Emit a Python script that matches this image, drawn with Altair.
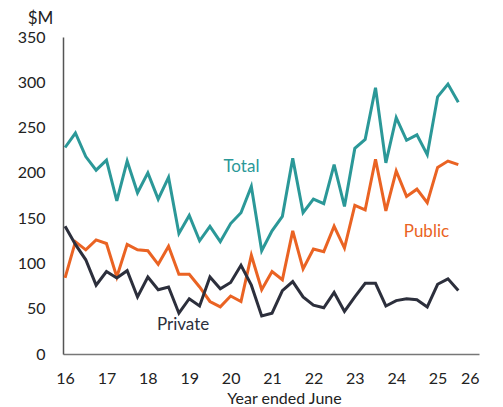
import altair as alt
import pandas as pd

# quarterly observations, year ended June (x in years, 16 = 2016)
total = [228, 244, 218, 203, 214, 169, 213, 178, 200, 171,
         195, 133, 153, 125, 141, 124, 144, 156, 185, 114,
         136, 152, 216, 156, 171, 166, 209, 163, 227, 237,
         294, 211, 261, 236, 242, 220, 284, 298, 278]
public = [84, 124, 115, 126, 122, 85, 121, 115, 114, 99,
          119, 88, 88, 74, 58, 52, 64, 58, 109, 71,
          91, 82, 136, 94, 116, 113, 141, 117, 164, 159,
          215, 158, 202, 174, 182, 167, 206, 213, 209]
private = [141, 121, 104, 76, 91, 84, 92, 63, 85, 71,
           74, 45, 61, 53, 85, 72, 79, 98, 76, 42,
           45, 70, 80, 63, 54, 51, 68, 47, 63, 78,
           78, 53, 59, 61, 60, 52, 77, 83, 70]
x_ticks = [16, 17, 18, 19, 20, 21, 22, 23, 24, 25, 26]

series_names = ["Total", "Public", "Private"]
series_colors = ["#2b9898", "#ea6323", "#2c2f3c"]
label_x = [20.26, 24.73, 18.85]
label_y = [207, 135, 32]

rows = []
for name, vals in zip(series_names, [total, public, private]):
    for i, v in enumerate(vals):
        rows.append({"year": 16 + 0.25 * i, "value": v, "series": name})
df = pd.DataFrame(rows)

labels = pd.DataFrame({"series": series_names, "x": label_x, "y": label_y})

color_scale = alt.Scale(domain=series_names, range=series_colors)

x_enc = alt.X(
    "year:Q",
    scale=alt.Scale(domain=[15.95, 26], nice=False, zero=False),
    axis=alt.Axis(
        values=x_ticks, format="d", title="Year ended June",
        titleX=221, titleY=44, titleBaseline="middle", titleAlign="center",
        titleFontSize=16, titleFontWeight="normal", titleColor="#222222",
        labelFontSize=16, labelColor="#222222", labelPadding=16,
        ticks=False, tickSize=0, grid=False,
        domainColor="#777777", domainWidth=1.5,
    ),
)
y_enc = alt.Y(
    "value:Q",
    scale=alt.Scale(domain=[0, 350], nice=False),
    axis=alt.Axis(
        values=[0, 50, 100, 150, 200, 250, 300, 350],
        title="$M", titleAngle=0, titleX=-23, titleY=-19,
        titleAlign="center", titleBaseline="middle",
        titleFontSize=17, titleFontWeight="normal", titleColor="#222222",
        labelFontSize=16, labelColor="#222222", labelPadding=18,
        ticks=False, tickSize=0, grid=False,
        domainColor="#555555", domainWidth=1.5,
    ),
)

lines = alt.Chart(df).mark_line(strokeWidth=3, strokeJoin="miter").encode(
    x=x_enc,
    y=y_enc,
    color=alt.Color("series:N", scale=color_scale, legend=None),
    detail="series:N",
)

text = alt.Chart(labels).mark_text(fontSize=17, font="Lato", align="center", baseline="middle").encode(
    x=alt.X("x:Q"),
    y=alt.Y("y:Q"),
    text="series:N",
    color=alt.Color("series:N", scale=color_scale, legend=None),
)

chart = alt.layer(lines, text).properties(
    width=416, height=317,
    autosize=alt.AutoSizeParams(type="none"),
    padding={"left": 55, "top": 29, "right": 16, "bottom": 58},
).configure(font="Lato").configure_view(stroke=None)

chart.save("out.html", embed_options={"renderer": "svg", "actions": False})
